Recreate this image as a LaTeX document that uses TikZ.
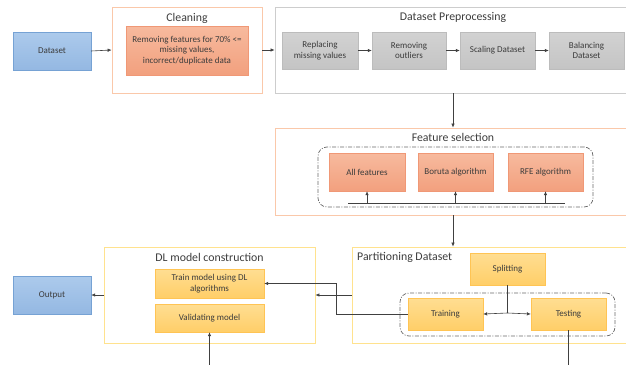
\documentclass[tikz,border=0pt]{standalone}
\usepackage{fontspec}
\setmainfont{Carlito}
\usepackage{tikz}
\usetikzlibrary{arrows.meta}

\definecolor{txtgray}{RGB}{60,60,60}
\definecolor{bluetop}{RGB}{172,202,236}
\definecolor{bluebot}{RGB}{148,184,226}
\definecolor{blueline}{RGB}{118,162,212}
\definecolor{salmtop}{RGB}{247,186,158}
\definecolor{salmbot}{RGB}{242,160,126}
\definecolor{salmline}{RGB}{240,152,118}
\definecolor{graytop}{RGB}{210,210,210}
\definecolor{graybot}{RGB}{196,196,196}
\definecolor{grayline}{RGB}{188,188,188}
\definecolor{yeltop}{RGB}{255,222,146}
\definecolor{yelbot}{RGB}{255,206,104}
\definecolor{yelline}{RGB}{255,196,84}
\definecolor{orframe}{RGB}{250,200,170}
\definecolor{yelframe}{RGB}{255,226,142}
\definecolor{grframe}{RGB}{205,205,205}
\definecolor{dashgray}{RGB}{105,105,105}

\tikzset{
  boxtext/.style={font=\fontsize{9}{10.8}\selectfont, text=txtgray, align=center, inner sep=1pt},
  bluebox/.style={boxtext, draw=blueline, top color=bluetop, bottom color=bluebot,
                  minimum width=78pt, minimum height=38pt},
  salmbox/.style={boxtext, draw=salmline, top color=salmtop, bottom color=salmbot,
                  minimum height=38pt},
  graybox/.style={boxtext, draw=grayline, top color=graytop, bottom color=graybot,
                  minimum height=37pt},
  yelbox/.style={boxtext, draw=yelline, top color=yeltop, bottom color=yelbot},
  frame/.style={draw=#1, line width=0.8pt, minimum width=0pt, inner sep=0pt},
  title/.style={font=\fontsize{11.8}{13}\selectfont, text=txtgray, inner sep=1pt},
  dashbox/.style={draw=dashgray, line width=0.7pt, rounded corners=9pt,
                  dash pattern=on 4pt off 1.5pt on 1pt off 1.5pt, inner sep=0pt},
  arr/.style={-{Latex[length=4pt,width=3.5pt]}, black!75, line width=0.6pt},
  ln/.style={black!75, line width=0.6pt}
}

\begin{document}
\begin{tikzpicture}[x=1pt,y=-1pt]
  \useasboundingbox (0,0) rectangle (626,364);
  \clip (0,0) rectangle (626,364);

  % Input and output
  \node[bluebox] (dataset) at (52,51) {Dataset};
  \node[bluebox] (out) at (52,295) {Output};

  % Cleaning
  \node[frame=orframe, minimum width=150pt, minimum height=86pt] (clean) at (187,50) {};
  \node[title] (cleantitle) at (187,18) {Cleaning};
  \node[salmbox, minimum width=122pt, minimum height=49pt] (cleanbox) at (187,50.5)
       {Removing features for 70\% <=\\ missing values,\\ incorrect/duplicate data};

  % Dataset preprocessing
  \node[frame=grframe, minimum width=356pt, minimum height=86pt] (prep) at (453,50) {};
  \node[title] (preptitle) at (453,17) {Dataset Preprocessing};
  \node[graybox, minimum width=76pt] (repl) at (320,50.5) {Replacing\\ missing values};
  \node[graybox, minimum width=74pt] (outl) at (409,50.5) {Removing\\ outliers};
  \node[graybox, minimum width=75pt] (scal) at (497.5,50.5) {Scaling Dataset};
  \node[graybox, minimum width=75pt] (bal) at (586.5,50.5) {Balancing\\ Dataset};

  % Feature selection
  \node[frame=orframe, minimum width=356pt, minimum height=87pt] (feat) at (453,171.5) {};
  \node[title] (feattitle) at (453,137) {Feature selection};
  \node[dashbox, minimum width=275pt, minimum height=60pt] (featgrp) at (455.5,177) {};
  \node[salmbox, minimum width=76pt] (allf) at (367,172) {All features};
  \node[salmbox, minimum width=75pt] (boruta) at (455.5,172) {Boruta algorithm};
  \node[salmbox, minimum width=75pt] (rfe) at (545.5,172) {RFE algorithm};
  \coordinate (fanL) at (348,203);
  \coordinate (fanR) at (565,203);

  % Partitioning dataset
  \node[frame=yelframe, minimum width=300pt, minimum height=96pt] (part) at (502,295) {};
  \node[title, anchor=west] (parttitle) at (356,257) {Partitioning Dataset};
  \node[dashbox, minimum width=215pt, minimum height=43pt] (partgrp) at (507.5,314.5) {};
  \node[yelbox, minimum width=75pt, minimum height=32pt] (split) at (507.5,269) {Splitting};
  \node[yelbox, minimum width=75pt, minimum height=32pt] (train) at (445.5,314) {Training};
  \node[yelbox, minimum width=75pt, minimum height=32pt] (test) at (568.5,314) {Testing};
  \coordinate (splitj) at (507.5,313);
  \coordinate (testout) at (568.5,370);

  % DL model construction
  \node[frame=yelframe, minimum width=211pt, minimum height=96pt] (dl) at (209.5,295) {};
  \node[title] (dltitle) at (209.5,257) {DL model construction};
  \node[yelbox, minimum width=109pt, minimum height=29pt] (trainm) at (209.5,283.5)
       {Train model using DL\\ algorithms};
  \node[yelbox, minimum width=109pt, minimum height=28pt] (valid) at (209.5,318) {Validating model};
  \coordinate (validin) at (209.5,370);

  % Connectors
  \draw[arr] (dataset.east) -- (clean.west);
  \draw[arr] (clean.east) -- (prep.west);
  \draw[arr] (repl) -- (outl);
  \draw[arr] (outl) -- (scal);
  \draw[arr] (scal) -- (bal);
  \draw[arr] (prep.south) -- (feat.north);
  \draw[ln] (fanL) -- (fanR);
  \foreach \b in {allf,boruta,rfe}
    \draw[arr] (\b.south |- fanL) -- (\b.south);
  \draw[arr] (feat.south) -- (feat.south |- part.north);
  \draw[ln] (split.south) -- (splitj);
  \draw[arr] (splitj) -- (train.east);
  \draw[arr] (splitj) -- (test.west);
  \draw[arr] (train.west) -- ++(-72,0) |- (trainm.east);
  \draw[arr] (part.west) -- (dl.east);
  \draw[arr] (dl.west) -- (out.east);
  \draw[arr] (validin) -- (valid.south);
  \draw[ln] (test.south) -- (testout);
\end{tikzpicture}
\end{document}
